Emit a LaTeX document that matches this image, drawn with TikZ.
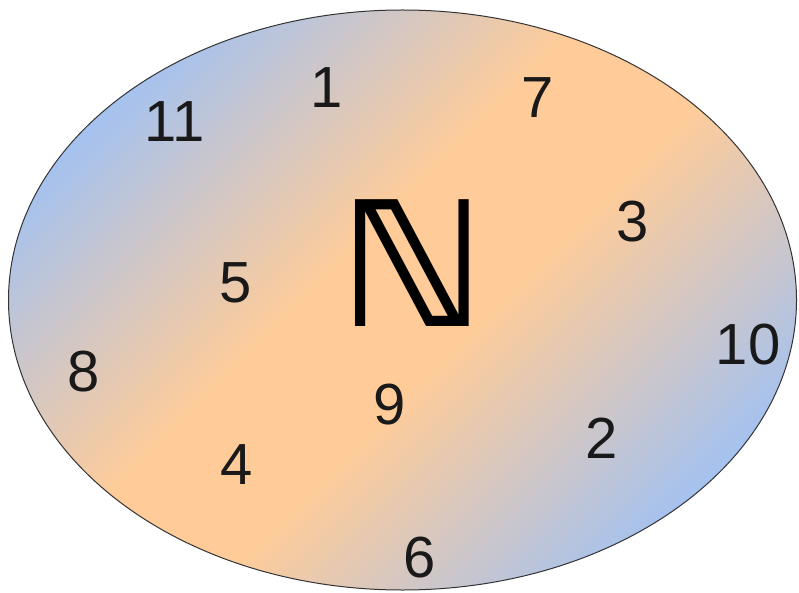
\documentclass[tikz,border=0pt]{standalone}
\usepackage{fontspec}
\setmainfont{Liberation Sans}
\newfontfamily\symfont{DejaVu Sans}
\definecolor{edgeblue}{RGB}{166,194,238}
\definecolor{midorange}{RGB}{255,204,153}
\pgfdeclarehorizontalshading{setshade}{100bp}{%
  color(0bp)=(edgeblue); color(25bp)=(edgeblue); color(45bp)=(midorange);
  color(55bp)=(midorange); color(75bp)=(edgeblue); color(100bp)=(edgeblue)}
\tikzset{
  num/.style={inner sep=0pt, font=\fontsize{58}{60}\selectfont, text=black!90},
}
\begin{document}
\begin{tikzpicture}[x=1pt,y=-1pt]
\useasboundingbox (0,0) rectangle (799,593);
\path[shading=setshade, shading angle=-45, draw=black!80, line width=1pt]
  (402.5,300) ellipse [x radius=394, y radius=290];
\node[inner sep=0pt, font=\symfont\bfseries\fontsize{174}{176}\selectfont] (N) at (412,263) {ℕ};
\node[num] (n11) at (175,122) {11};
\node[num] (n1) at (327,88) {1};
\node[num] (n7) at (538,98) {7};
\node[num] (n3) at (633,222) {3};
\node[num] (n5) at (236,283) {5};
\node[num] (n8) at (84,372) {8};
\node[num] (n10) at (748,345) {10};
\node[num] (n9) at (390,405) {9};
\node[num] (n2) at (602,438) {2};
\node[num] (n4) at (237,465) {4};
\node[num] (n6) at (420,558) {6};
\end{tikzpicture}
\end{document}
